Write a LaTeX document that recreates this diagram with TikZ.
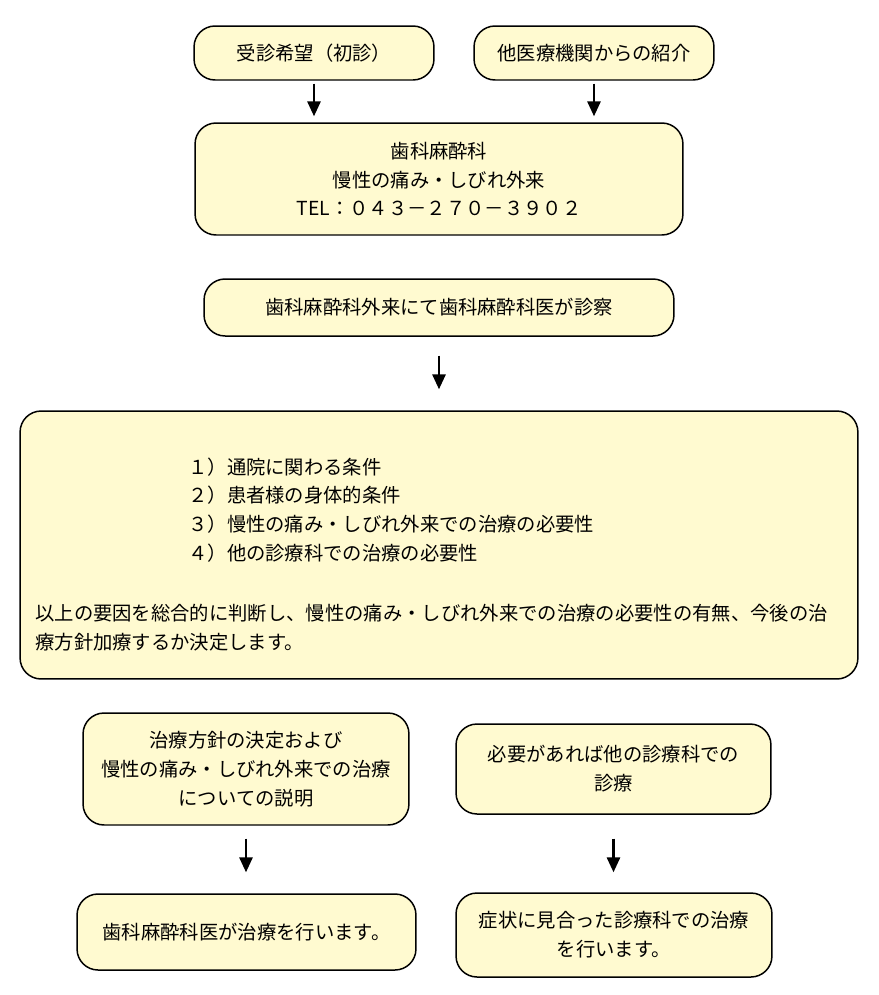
\documentclass[tikz,border=0pt]{standalone}
\usepackage{fontspec}
\setmainfont{Noto Sans CJK JP}
\usetikzlibrary{arrows.meta}

\definecolor{boxfill}{RGB}{255,250,208}

\tikzset{
    flowbox/.style={draw, line width=0.85pt, fill=boxfill, rounded corners=0.42cm,
        inner sep=0pt, align=center},
    flow/.style={line width=1.3pt, -{Triangle[width=7.5pt,length=8.5pt]}},
    plain/.style={inner sep=0pt, align=left}
}

\begin{document}
\begin{tikzpicture}[x=0.02cm, y=-0.02cm, font=\fontsize{11pt}{16.4pt}\selectfont]
	    % Page frame (pixels of the reference)
	    \useasboundingbox (0,0) rectangle (879,995);

	    % Entry boxes
	    \node [flowbox, minimum width=4.8cm, minimum height=1.08cm] (first)
		at (314,53) {受診希望（初診）};
	    \node [flowbox, minimum width=4.8cm, minimum height=1.08cm] (referral)
		at (594,53) {他医療機関からの紹介};

	    % The clinic
	    \node [flowbox, minimum width=9.76cm, minimum height=2.24cm] (clinic)
		at (439,179) {歯科麻酔科\\慢性の痛み・しびれ外来\\TEL：０４３－２７０－３９０２};
	    \node [flowbox, minimum width=9.4cm, minimum height=1.14cm] (exam)
		at (439,307.5) {歯科麻酔科外来にて歯科麻酔科医が診察};

	    % The factors that are weighed
	    \node [flowbox, minimum width=16.76cm, minimum height=5.36cm] (factors)
		at (439,545) {};
	    \node [plain, anchor=west] (items) at (188,510)
		{１）通院に関わる条件\\２）患者様の身体的条件\\３）慢性の痛み・しびれ外来での治療の必要性\\４）他の診療科での治療の必要性};
	    \node [plain, anchor=west] (summary) at (35,627.5)
		{以上の要因を総合的に判断し、慢性の痛み・しびれ外来での治療の必要性の有無、今後の治\\療方針加療するか決定します。};

	    % Outcomes
	    \node [flowbox, minimum width=6.52cm, minimum height=2.24cm] (plan)
		at (246,769) {治療方針の決定および\\慢性の痛み・しびれ外来での治療\\についての説明};
	    \node [flowbox, minimum width=6.3cm, minimum height=1.8cm] (other)
		at (613.5,769) {必要があれば他の診療科での\\診療};
	    \node [flowbox, minimum width=6.78cm, minimum height=1.52cm] (treat)
		at (246.5,932) {歯科麻酔科医が治療を行います。};
	    \node [flowbox, minimum width=6.32cm, minimum height=1.68cm] (othertreat)
		at (614,935) {症状に見合った診療科での治療\\を行います。};

	    % Draw the arrows
	    \draw [flow, shorten <=0.06cm, shorten >=0.12cm] (first.south) -- (first.south |- clinic.north);
	    \draw [flow, shorten <=0.06cm, shorten >=0.12cm] (referral.south) -- (referral.south |- clinic.north);
	    \draw [flow, shorten <=0.38cm, shorten >=0.42cm] (exam.south) -- (exam.south |- factors.north);
	    \draw [flow, shorten <=0.26cm, shorten >=0.42cm] (plan.south) -- (plan.south |- treat.north);
	    \draw [flow, shorten <=0.48cm, shorten >=0.40cm] (other.south) -- (other.south |- othertreat.north);
	\end{tikzpicture}
\end{document}
